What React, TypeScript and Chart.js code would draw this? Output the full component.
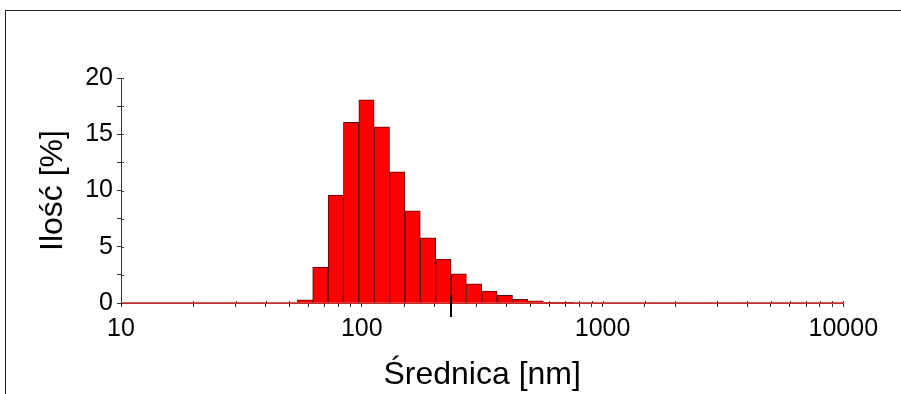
import React, { useEffect, useRef } from "react";
import { Chart, registerables } from "chart.js";

Chart.register(...registerables);

// Histogram bins (geometric bin centres, nm) and their share (%)
const binCenters = [58.1, 67.3, 78.0, 90.3, 104.6, 121.2, 140.4, 162.6, 188.4, 218.2, 252.8, 292.8, 339.2, 392.9, 455.2, 527.3, 610.8, 707.5];
const percentValues = [0.28, 3.2, 9.6, 16.05, 18.05, 15.65, 11.65, 8.2, 5.8, 3.9, 2.6, 1.7, 1.05, 0.68, 0.32, 0.2, 0.07, 0.06];
const xRange = [10, 10000];
const yRange = [0, 20];
const yStep = 2.5;
const yLabelStep = 5;
const markerValue = 235.6;
const markerTopValue = 0.7;
const xTitle = "Średnica [nm]";
const yTitle = "Ilość [%]";

const FONT = "'Liberation Sans', Arial, Helvetica, sans-serif";

export default function App() {
  const ref = useRef<HTMLCanvasElement | null>(null);

  useEffect(() => {
    if (!ref.current) return;
    const tickPlugin = {
      id: "crossTicks",
      beforeDatasetsDraw(chart: any) {
        const ctx = chart.ctx;
        const xs = chart.scales.x;
        const ys = chart.scales.y;
        ctx.save();
        ctx.strokeStyle = "#333";
        ctx.lineWidth = 1;
        xs.ticks.forEach((t: any) => {
          const px = Math.round(xs.getPixelForValue(t.value)) + 0.5;
          ctx.beginPath();
          ctx.moveTo(px, ys.bottom - 2);
          ctx.lineTo(px, ys.bottom);
          ctx.stroke();
        });
        ys.ticks.forEach((t: any) => {
          const py = Math.round(ys.getPixelForValue(t.value)) + 0.5;
          ctx.beginPath();
          ctx.moveTo(xs.left, py);
          ctx.lineTo(xs.left + 3, py);
          ctx.stroke();
        });
        // red baseline of the histogram
        const by = Math.round(ys.bottom);
        ctx.strokeStyle = "#c42a2a";
        ctx.lineWidth = 1.5;
        ctx.beginPath();
        ctx.moveTo(xs.left + 1, by);
        ctx.lineTo(xs.right, by);
        ctx.stroke();
        ctx.restore();
      },
      afterDatasetsDraw(chart: any) {
        const ctx = chart.ctx;
        const xs = chart.scales.x;
        const ys = chart.scales.y;
        const px = Math.round(xs.getPixelForValue(markerValue));
        ctx.save();
        ctx.strokeStyle = "#000";
        ctx.lineWidth = 2;
        ctx.beginPath();
        ctx.moveTo(px, ys.getPixelForValue(markerTopValue));
        ctx.lineTo(px, ys.bottom + 14);
        ctx.stroke();
        ctx.restore();
      },
    };

    const chart = new Chart(ref.current, {
      type: "bar",
      data: {
        datasets: [
          {
            data: binCenters.map((c, i) => ({ x: c, y: percentValues[i] })),
            xAxisID: "xb",
            backgroundColor: "#ff0000",
            borderColor: "#5c0a0a",
            borderWidth: 1,
            barPercentage: 1,
            categoryPercentage: 1,
          },
        ],
      },
      options: {
        responsive: false,
        animation: false,
        devicePixelRatio: 1,
        layout: { padding: { top: 78, right: 57.7, left: 0, bottom: 0 } },
        plugins: { legend: { display: false }, tooltip: { enabled: false } },
        scales: {
          xb: {
            type: "logarithmic",
            display: false,
            min: xRange[0],
            max: xRange[1],
            offset: false,
            afterBuildTicks: (axis: any) => {
              axis.ticks = [];
            },
          },
          x: {
            type: "logarithmic",
            position: "bottom",
            min: xRange[0],
            max: xRange[1],
            offset: false,
            afterFit: (s: any) => {
              s.height = 91;
            },
            border: { display: true, color: "#c03a3a", width: 1 },
            grid: {
              display: true,
              drawOnChartArea: false,
              drawTicks: true,
              tickLength: 4,
              color: "#333",
              offset: false,
            },
            ticks: {
              autoSkip: false,
              maxRotation: 0,
              minRotation: 0,
              padding: 7,
              color: "#000",
              font: { family: FONT, size: 25 },
              callback: (v: any) => {
                const l = Math.log10(Number(v));
                return Math.abs(l - Math.round(l)) < 1e-9 ? String(v) : "";
              },
            },
            title: {
              display: true,
              text: xTitle,
              color: "#000",
              font: { family: FONT, size: 32 },
              padding: { top: 0, bottom: 0 },
            },
          },
          y: {
            type: "linear",
            min: yRange[0],
            max: yRange[1],
            afterFit: (s: any) => {
              s.width = 121;
            },
            border: { display: true, color: "#333", width: 1 },
            grid: {
              display: true,
              drawOnChartArea: false,
              drawTicks: true,
              tickLength: 4,
              color: "#333",
            },
            ticks: {
              stepSize: yStep,
              autoSkip: false,
              padding: 4,
              color: "#000",
              font: { family: FONT, size: 25 },
              callback: (v: any) => (Number(v) % yLabelStep === 0 ? String(v) : ""),
            },
            title: {
              display: true,
              text: yTitle,
              color: "#000",
              font: { family: FONT, size: 32 },
              padding: { top: 34, bottom: 0 },
            },
          },
        },
      },
      plugins: [tickPlugin],
    } as any);
    return () => chart.destroy();
  }, []);

  return (
    <div
      style={{
        position: "fixed",
        left: 0,
        top: 0,
        width: 901,
        height: 394,
        background: "#fff",
        overflow: "hidden",
      }}
    >
      <div
        style={{
          position: "absolute",
          left: 5,
          top: 10,
          right: -10,
          bottom: -10,
          borderTop: "1px solid #222",
          borderLeft: "1px solid #222",
        }}
      />
      <canvas ref={ref} width={901} height={394} style={{ position: "absolute", left: 0, top: 0 }} />
    </div>
  );
}
